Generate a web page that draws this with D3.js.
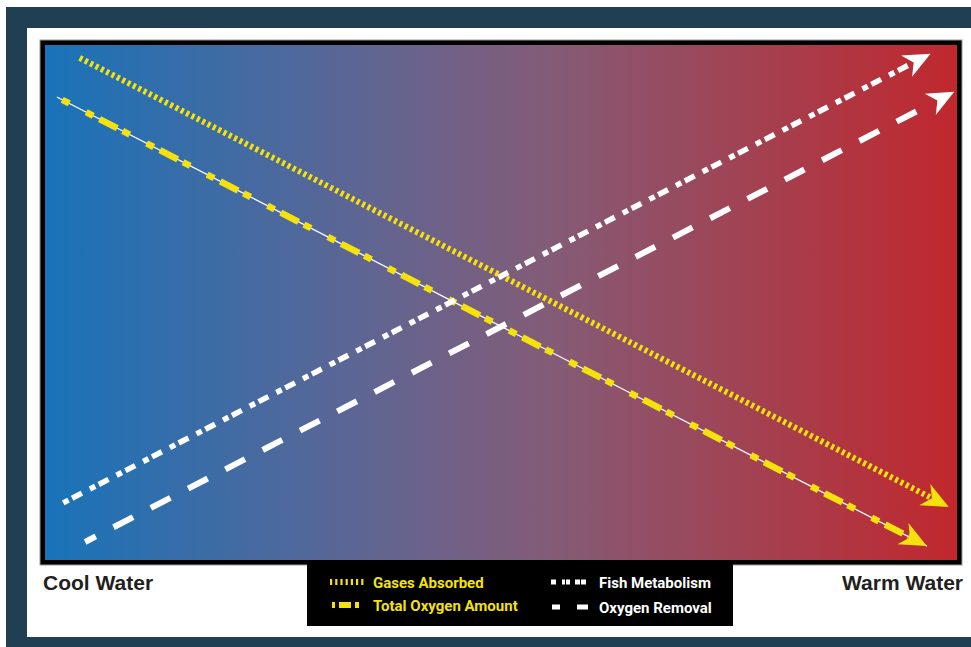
<!DOCTYPE html>
<html>
<head>
<meta charset="utf-8">
<script src="https://cdn.jsdelivr.net/npm/d3@7"></script>
<style>
  html, body { margin: 0; padding: 0; background: #ffffff; }
  svg { display: block; }
  text { font-weight: 700; }
</style>
</head>
<body>
<script>
// ---- Data (conceptual trends, 0–100 scale; x: cool → warm, y: low → high)
const seriesNames = ["Gases Absorbed", "Total Oxygen Amount", "Fish Metabolism", "Oxygen Removal"];
const gasesAbsorbed = [{x: 3.8, y: 97.5}, {x: 99.1, y: 10.3}];
const totalOxygen   = [{x: 1.3, y: 89.9}, {x: 96.7, y: 2.7}];
const fishMetabolism = [{x: 2.0, y: 11.1}, {x: 97.1, y: 98.3}];
const oxygenRemoval = [{x: 4.4, y: 3.5}, {x: 99.7, y: 90.9}];
const axisLabels = ["Cool Water", "Warm Water"];

const W = 971, H = 647;
const svg = d3.select("body").append("svg").attr("width", W).attr("height", H);

// outer frame
svg.append("rect").attr("x", 6).attr("y", 7).attr("width", W - 6).attr("height", H - 7).attr("fill", "#203f52");
svg.append("rect").attr("x", 27).attr("y", 28).attr("width", W - 27).attr("height", 637 - 28).attr("fill", "#ffffff");

// plot area
const inner = {x0: 45, x1: 957, y0: 45, y1: 560};
const x = d3.scaleLinear().domain([0, 100]).range([inner.x0, inner.x1]);
const y = d3.scaleLinear().domain([0, 100]).range([inner.y1, inner.y0]);

const defs = svg.append("defs");
const grad = defs.append("linearGradient").attr("id", "bg").attr("x1", "0%").attr("x2", "100%").attr("y1", "0%").attr("y2", "0%");
grad.append("stop").attr("offset", "0%").attr("stop-color", "#1873b9");
grad.append("stop").attr("offset", "35%").attr("stop-color", "#5f6593");
grad.append("stop").attr("offset", "55%").attr("stop-color", "#835c77");
grad.append("stop").attr("offset", "100%").attr("stop-color", "#c1272d");

const YEL = "#f5e20c", WHITE = "#ffffff";
function marker(id, color) {
  defs.append("marker").attr("id", id)
    .attr("markerUnits", "userSpaceOnUse")
    .attr("viewBox", "-28 -14 30 28")
    .attr("refX", 0).attr("refY", 0)
    .attr("markerWidth", 30).attr("markerHeight", 28)
    .attr("orient", "auto")
    .append("path").attr("d", "M0,0 L-27,-12 L-19,0 L-27,12 Z").attr("fill", color);
}
marker("arrY", YEL);
marker("arrW", WHITE);

// border
svg.append("rect").attr("x", 40).attr("y", 40).attr("width", 922).attr("height", 525)
  .attr("fill", "#000").attr("stroke", "#9a9a9a").attr("stroke-width", 1);
svg.append("rect").attr("x", inner.x0).attr("y", inner.y0)
  .attr("width", inner.x1 - inner.x0).attr("height", inner.y1 - inner.y0).attr("fill", "url(#bg)");

const line = d3.line().x(d => x(d.x)).y(d => y(d.y));
// shorten line end so dashes stay under arrowhead
function trimmed(data, cut) {
  const a = data[0], b = data[1];
  const px0 = x(a.x), py0 = y(a.y), px1 = x(b.x), py1 = y(b.y);
  const L = Math.hypot(px1 - px0, py1 - py0);
  const t = (L - cut) / L;
  return [a, {x: x.invert(px0 + (px1 - px0) * t), y: y.invert(py0 + (py1 - py0) * t)}];
}
const g = svg.append("g");

// Total Oxygen Amount: thin white line + yellow dash-dot pattern
g.append("path").datum(totalOxygen).attr("d", line).attr("fill", "none")
  .attr("stroke", WHITE).attr("stroke-width", 1.3).attr("marker-end", "url(#arrY)");
g.append("path").datum(trimmed(totalOxygen, 20)).attr("d", line).attr("fill", "none")
  .attr("stroke", YEL).attr("stroke-width", 6.5)
  .attr("stroke-dasharray", "8,19,8,7,20,6").attr("stroke-dashoffset", -6);

// Gases Absorbed: dotted yellow
g.append("path").datum(trimmed(gasesAbsorbed, 16)).attr("d", line).attr("fill", "none")
  .attr("stroke", YEL).attr("stroke-width", 6).attr("stroke-dasharray", "3,3");
g.append("path").datum(gasesAbsorbed).attr("d", line).attr("fill", "none")
  .attr("stroke", "none").attr("marker-end", "url(#arrY)");

// Fish Metabolism: white dot-dash
g.append("path").datum(trimmed(fishMetabolism, 18)).attr("d", line).attr("fill", "none")
  .attr("stroke", WHITE).attr("stroke-width", 5.5).attr("stroke-dasharray", "6,4,11,9");
g.append("path").datum(fishMetabolism).attr("d", line).attr("fill", "none")
  .attr("stroke", "none").attr("marker-end", "url(#arrW)");

// Oxygen Removal: white long dashes
g.append("path").datum(trimmed(oxygenRemoval, 30)).attr("d", line).attr("fill", "none")
  .attr("stroke", WHITE).attr("stroke-width", 6).attr("stroke-dasharray", "22,20").attr("stroke-dashoffset", 10);
g.append("path").datum(oxygenRemoval).attr("d", line).attr("fill", "none")
  .attr("stroke", "none").attr("marker-end", "url(#arrW)");

// axis labels
const labelFont = "'Liberation Sans', Arial, sans-serif";
svg.append("text").attr("x", 43).attr("y", 590).attr("font-size", 21).attr("font-family", labelFont)
  .attr("fill", "#231f20").text(axisLabels[0]);
svg.append("text").attr("x", 963).attr("y", 590).attr("font-size", 21).attr("font-family", labelFont)
  .attr("fill", "#231f20").attr("text-anchor", "end").text(axisLabels[1]);

// legend
const leg = svg.append("g");
leg.append("rect").attr("x", 307).attr("y", 560).attr("width", 426).attr("height", 66).attr("fill", "#000");
const legendItems = [
  {name: seriesNames[0], color: YEL, x0: 330, x1: 364, y: 582, w: 6, dash: "2.2,3"},
  {name: seriesNames[1], color: YEL, x0: 332, x1: 362, y: 605, w: 6, dash: "3,4,12,4,4,20"},
  {name: seriesNames[2], color: WHITE, x0: 551, x1: 588, y: 582, w: 5, dash: "5,6,3,1,4,5,5,1"},
  {name: seriesNames[3], color: WHITE, x0: 552, x1: 588, y: 607, w: 5, dash: "8,17,11,0"}
];
legendItems.forEach((d, i) => {
  leg.append("line").attr("x1", d.x0).attr("x2", d.x1).attr("y1", d.y).attr("y2", d.y)
    .attr("stroke", d.color).attr("stroke-width", d.w).attr("stroke-dasharray", d.dash);
  leg.append("text").attr("x", i < 2 ? 373 : 599).attr("y", d.y + 5.5)
    .attr("font-family", "Roboto, sans-serif")
    .attr("font-size", 15).attr("fill", d.color).text(d.name);
});
</script>
</body>
</html>
